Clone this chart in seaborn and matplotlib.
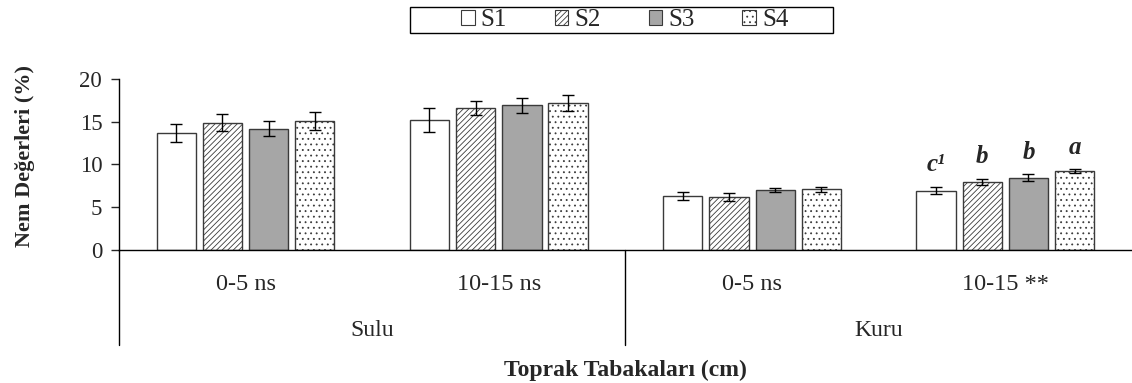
import numpy as np
import pandas as pd
import matplotlib
matplotlib.use("Agg")
import matplotlib.pyplot as plt
import seaborn as sns
from matplotlib.patches import Patch, Rectangle
from matplotlib.lines import Line2D

# data
groups = ["Sulu", "Kuru"]
layers = ["0-5 ns", "10-15 ns", "0-5 ns", "10-15 **"]
categories = ["Sulu 0-5", "Sulu 10-15", "Kuru 0-5", "Kuru 10-15"]
treatments = ["S1", "S2", "S3", "S4"]
s1 = [13.7, 15.25, 6.35, 6.95]
s2 = [14.9, 16.6, 6.2, 7.95]
s3 = [14.2, 16.9, 7.05, 8.45]
s4 = [15.1, 17.2, 7.1, 9.2]
s1_err = [1.05, 1.4, 0.45, 0.45]
s2_err = [0.95, 0.8, 0.45, 0.4]
s3_err = [0.85, 0.9, 0.22, 0.4]
s4_err = [1.05, 0.9, 0.3, 0.25]
letters_kuru_deep = ["c\u00b9", "b", "b", "a"]

values = [s1, s2, s3, s4]
errors = [s1_err, s2_err, s3_err, s4_err]
rows = []
for t, vals, errs in zip(treatments, values, errors):
    for c, v, e in zip(categories, vals, errs):
        rows.append({"cat": c, "trt": t, "val": v, "err": e})
df = pd.DataFrame(rows)

sns.set_style("white")
plt.rcParams["font.family"] = ["Liberation Serif", "DejaVu Serif"]
plt.rcParams["hatch.linewidth"] = 0.6

fig = plt.figure(figsize=(11.32, 3.83), dpi=100)
ax = fig.add_axes([0.105, 0.347, 0.895, 0.447])

fills = {"S1": "white", "S2": "white", "S3": "#a6a6a6", "S4": "white"}
hatches = {"S1": "", "S2": "//////", "S3": "", "S4": "..."}
edge = "#3a3a3a"

sns.barplot(data=df, x="cat", y="val", hue="trt", order=categories,
            hue_order=treatments, palette=fills, width=0.73, gap=0.15,
            errorbar=None, edgecolor=edge, linewidth=1.0, legend=False, ax=ax)

for container, t in zip(ax.containers, treatments):
    sub = df[df["trt"] == t].set_index("cat").loc[categories]
    xs = [b.get_x() + b.get_width() / 2 for b in container]
    for b in container:
        b.set_hatch(hatches[t])
    ax.errorbar(xs, sub["val"], yerr=sub["err"], fmt="none", ecolor="black",
                elinewidth=1.0, capsize=4, capthick=1.0, zorder=5)
    idx = treatments.index(t)
    top = sub["val"].iloc[3] + sub["err"].iloc[3]
    ax.text(xs[3], top + 1.8, letters_kuru_deep[idx], ha="center",
            va="baseline", fontsize=18, fontweight="bold", fontstyle="italic")

ax.set_ylim(0, 20)
ax.set_yticks([0, 5, 10, 15, 20])
ax.set_xlim(-0.5, 3.5)
ax.set_xticks(range(4))
ax.set_xticklabels(layers)
ax.tick_params(axis="y", labelsize=16.5, length=6, width=1, direction="out",
               left=True, pad=6)
ax.tick_params(axis="x", labelsize=17.5, length=0, pad=17)
for s in ["top", "right"]:
    ax.spines[s].set_visible(False)
for s in ["left", "bottom"]:
    ax.spines[s].set_color("black")
    ax.spines[s].set_linewidth(1)
ax.set_xlabel("")
ax.set_ylabel("Nem Değerleri (%)", fontsize=16, fontweight="bold", labelpad=31)
ax.yaxis.set_label_coords(-0.083, 0.55)

# group separators and group labels below axis
for xpos in [0.0, 0.5]:
    ax.add_line(Line2D([xpos, xpos], [0, -0.555], transform=ax.transAxes,
                       color="black", lw=1, clip_on=False))
for i, g in enumerate(groups):
    ax.text(0.25 + 0.5 * i, -0.47, g, transform=ax.transAxes, ha="center",
            va="center", fontsize=17)
ax.text(0.5, -0.70, "Toprak Tabakaları (cm)", transform=ax.transAxes,
        ha="center", va="center", fontsize=17, fontweight="bold")

handles = [Patch(facecolor=fills[t], edgecolor=edge, hatch=hatches[t], lw=0.8)
           for t in treatments]
leg = fig.legend(handles, treatments, loc="center", bbox_to_anchor=(0.552, 0.948),
                 ncol=4, frameon=False, fontsize=18,
                 handlelength=0.55, handleheight=0.55, handletextpad=0.25,
                 columnspacing=1.9, borderpad=0, borderaxespad=0)
fig.patches.append(Rectangle((410 / 1132, 1 - 33 / 383), 423 / 1132, 26 / 383,
                             transform=fig.transFigure, fill=False,
                             edgecolor="black", lw=1))

fig.savefig("out.png", dpi=100)
